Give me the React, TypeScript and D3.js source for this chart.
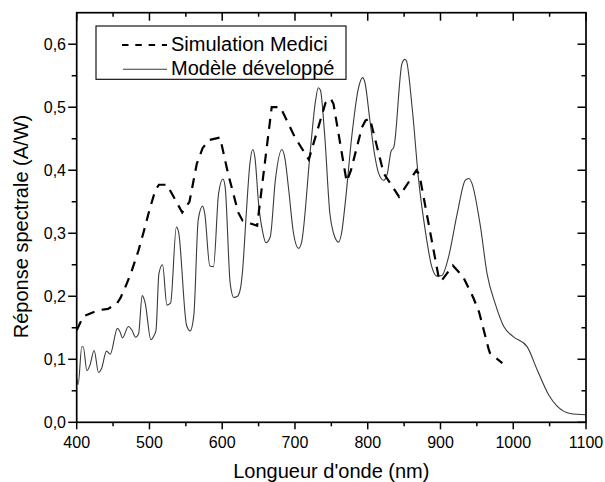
import React from "react";
import * as d3 from "d3";

// Simulation Medici (dashed)
const mediciNm = [400, 409, 417, 430, 443, 455, 460, 467, 475, 485, 492, 500, 508, 513, 524, 545, 555, 565, 573, 582, 597, 608, 622, 628, 640, 648, 668, 680, 700, 719, 742, 749, 753, 771, 777, 792, 797, 803, 822, 843, 867, 871, 898, 901, 917, 931, 945, 953, 966, 968, 985];
const mediciVal = [0.146, 0.168, 0.172, 0.178, 0.180, 0.188, 0.197, 0.215, 0.238, 0.273, 0.302, 0.337, 0.368, 0.377, 0.377, 0.333, 0.350, 0.410, 0.435, 0.448, 0.452, 0.395, 0.333, 0.320, 0.315, 0.312, 0.500, 0.500, 0.452, 0.417, 0.507, 0.514, 0.505, 0.382, 0.400, 0.468, 0.479, 0.482, 0.395, 0.358, 0.400, 0.393, 0.227, 0.224, 0.249, 0.231, 0.198, 0.175, 0.117, 0.110, 0.094];

// Modèle développé (solid)
const modelNm = [400, 402, 407, 409, 414, 418, 424, 430, 434, 441, 446, 456, 459, 463, 471, 476, 481, 485, 490, 494, 502, 506, 509, 513, 518, 524, 529, 537, 540, 551, 556, 561, 567, 573, 576, 583, 588, 595, 601, 604, 611, 616, 621, 625, 628, 633, 638, 642, 645, 650, 656, 660, 666, 673, 682, 686, 691, 698, 705, 709, 721, 728, 732, 735, 741, 748, 753, 760, 764, 769, 778, 787, 793, 796, 803, 810, 815, 822, 827, 832, 836, 847, 851, 853, 861, 870, 879, 888, 895, 902, 911, 923, 934, 939, 943, 955, 964, 975, 987, 1000, 1019, 1033, 1049, 1060, 1078, 1100];
const modelVal = [0.070, 0.060, 0.120, 0.120, 0.082, 0.090, 0.114, 0.079, 0.085, 0.113, 0.108, 0.149, 0.145, 0.134, 0.152, 0.146, 0.135, 0.140, 0.201, 0.190, 0.131, 0.137, 0.146, 0.236, 0.250, 0.186, 0.189, 0.310, 0.302, 0.154, 0.145, 0.170, 0.321, 0.343, 0.331, 0.248, 0.247, 0.363, 0.386, 0.374, 0.220, 0.198, 0.200, 0.212, 0.241, 0.330, 0.410, 0.433, 0.420, 0.347, 0.300, 0.285, 0.294, 0.384, 0.433, 0.420, 0.373, 0.300, 0.276, 0.285, 0.430, 0.508, 0.531, 0.527, 0.453, 0.331, 0.300, 0.286, 0.300, 0.347, 0.453, 0.529, 0.547, 0.540, 0.479, 0.421, 0.395, 0.384, 0.395, 0.430, 0.437, 0.569, 0.576, 0.574, 0.500, 0.384, 0.305, 0.247, 0.232, 0.233, 0.262, 0.331, 0.384, 0.387, 0.380, 0.310, 0.236, 0.189, 0.152, 0.136, 0.120, 0.083, 0.043, 0.026, 0.014, 0.012];

const xTicks = [400, 500, 600, 700, 800, 900, 1000, 1100];
const xMinor = [450, 550, 650, 750, 850, 950, 1050];
const yTicks = [0, 0.1, 0.2, 0.3, 0.4, 0.5, 0.6];
const yMinor = [0.05, 0.15, 0.25, 0.35, 0.45, 0.55];
const seriesNames = ["Simulation Medici", "Modèle développé"];
const xTitle = "Longueur d'onde (nm)";
const yTitle = "Réponse spectrale (A/W)";

const W = 605, H = 482;
const L = 76.7, R = 586, T = 12.7, B = 422.3;
const FONT = "'Liberation Sans', Arial, sans-serif";

export default function App() {
  const x = d3.scaleLinear().domain([400, 1100]).range([L, R]);
  const y = d3.scaleLinear().domain([0, 0.65]).range([B, T]);

  const mediciPts = mediciNm.map((n, i) => [n, mediciVal[i]] as [number, number]);
  const modelPts = modelNm.map((n, i) => [n, modelVal[i]] as [number, number]);

  const dashedLine = d3.line<[number, number]>().x(d => x(d[0])).y(d => y(d[1]));
  const solidLine = d3.line<[number, number]>().x(d => x(d[0])).y(d => y(d[1])).curve(d3.curveMonotoneX);

  const fmt = (v: number) => v.toFixed(1).replace(".", ",");

  return (
    <svg width={W} height={H} style={{ position: "absolute", left: 0, top: 0, background: "#fff" }} fontFamily={FONT}>
      <rect x={0} y={0} width={W} height={H} fill="#fff" />
      {/* curves */}
      <path d={solidLine(modelPts) || ""} fill="none" stroke="#3a3a3a" strokeWidth={1.1} />
      <path d={dashedLine(mediciPts) || ""} fill="none" stroke="#000" strokeWidth={2.2} strokeDasharray="10,7.5" />

      {/* frame */}
      <rect x={L} y={T} width={R - L} height={B - T} fill="none" stroke="#000" strokeWidth={1.7} />

      {/* x ticks bottom (out) and top (in) */}
      {xTicks.map(t => (
        <g key={"xt" + t}>
          <line x1={x(t)} x2={x(t)} y1={B} y2={B + 7} stroke="#000" strokeWidth={1.5} />
          <line x1={x(t)} x2={x(t)} y1={T} y2={T + 8} stroke="#000" strokeWidth={1.5} />
          <text x={x(t)} y={448} textAnchor="middle" fontSize={16} fill="#000">{t}</text>
        </g>
      ))}
      {xMinor.map(t => (
        <g key={"xm" + t}>
          <line x1={x(t)} x2={x(t)} y1={B} y2={B + 4} stroke="#000" strokeWidth={1.5} />
          <line x1={x(t)} x2={x(t)} y1={T} y2={T + 4} stroke="#000" strokeWidth={1.5} />
        </g>
      ))}

      {/* y ticks left (out) and right (in) */}
      {yTicks.map(t => (
        <g key={"yt" + t}>
          <line x1={L - 8.5} x2={L} y1={y(t)} y2={y(t)} stroke="#000" strokeWidth={1.5} />
          <line x1={R - 8.5} x2={R} y1={y(t)} y2={y(t)} stroke="#000" strokeWidth={1.5} />
          <text x={66} y={y(t)} dy="0.35em" textAnchor="end" fontSize={16} fill="#000">{fmt(t)}</text>
        </g>
      ))}
      {yMinor.map(t => (
        <g key={"ym" + t}>
          <line x1={L - 5} x2={L} y1={y(t)} y2={y(t)} stroke="#000" strokeWidth={1.5} />
          <line x1={R - 4.5} x2={R} y1={y(t)} y2={y(t)} stroke="#000" strokeWidth={1.5} />
        </g>
      ))}

      {/* axis titles */}
      <text x={(L + R) / 2} y={478} textAnchor="middle" fontSize={20} fill="#000">{xTitle}</text>
      <text transform={`translate(28, ${226.5}) rotate(-90)`} textAnchor="middle" fontSize={20} fill="#000">{yTitle}</text>

      {/* legend */}
      <rect x={96} y={26} width={250} height={53.3} fill="#fff" stroke="#000" strokeWidth={1.1} />
      <line x1={122} x2={167} y1={45} y2={45} stroke="#000" strokeWidth={2.2} strokeDasharray="6.5,6.8" />
      <text x={171} y={51} fontSize={20} fill="#000">{seriesNames[0]}</text>
      <line x1={123} x2={167} y1={69.3} y2={69.3} stroke="#3a3a3a" strokeWidth={1.1} />
      <text x={171} y={74.5} fontSize={20} fill="#000">{seriesNames[1]}</text>
    </svg>
  );
}
